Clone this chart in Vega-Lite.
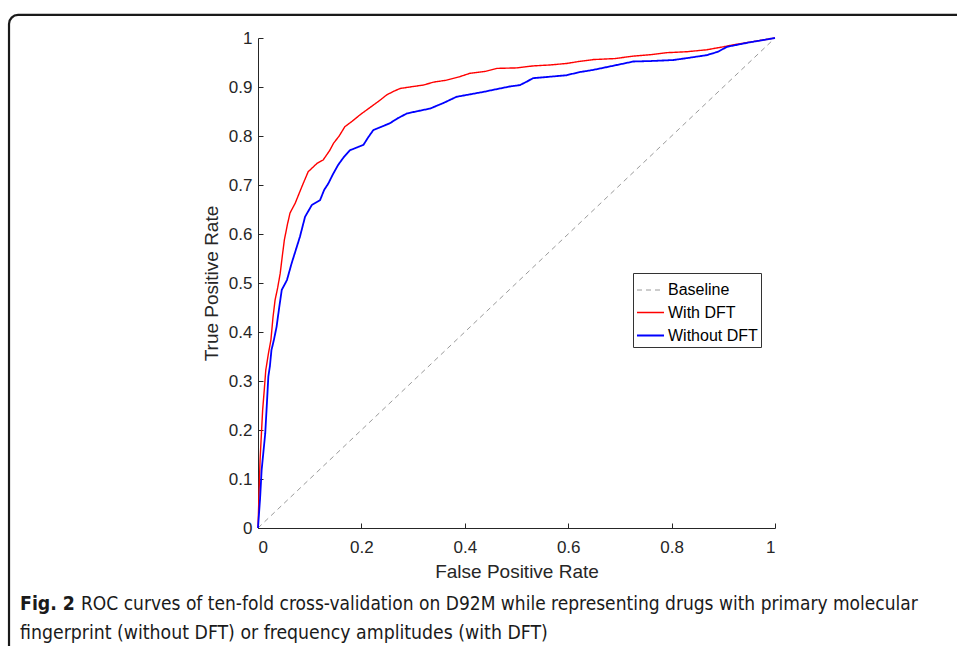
{
  "$schema": "https://vega.github.io/schema/vega-lite/v6.json",
  "width": 517,
  "height": 490,
  "autosize": {"type": "none"},
  "padding": {"left": 258, "top": 38, "right": 182, "bottom": 118},
  "background": "white",
  "config": {
    "view": {"stroke": null},
    "font": "Liberation Sans",
    "axis": {
      "domainColor": "#262626",
      "tickColor": "#262626",
      "labelColor": "#262626",
      "titleColor": "#262626",
      "labelFont": "Liberation Sans",
      "titleFont": "Liberation Sans",
      "labelFontSize": 17,
      "titleFontSize": 19,
      "titleFontWeight": "normal",
      "tickSize": -5,
      "grid": false,
      "domainWidth": 1,
      "tickWidth": 1
    }
  },
  "datasets": {
    "roc": [
      {"series": "Baseline", "fpr": 0, "tpr": 0},
      {"series": "Baseline", "fpr": 1, "tpr": 1},
      {"series": "With DFT", "fpr": 0, "tpr": 0},
      {"series": "With DFT", "fpr": 0.002, "tpr": 0.07},
      {"series": "With DFT", "fpr": 0.004, "tpr": 0.139},
      {"series": "With DFT", "fpr": 0.007, "tpr": 0.2},
      {"series": "With DFT", "fpr": 0.009, "tpr": 0.241},
      {"series": "With DFT", "fpr": 0.012, "tpr": 0.28},
      {"series": "With DFT", "fpr": 0.015, "tpr": 0.322},
      {"series": "With DFT", "fpr": 0.02, "tpr": 0.355},
      {"series": "With DFT", "fpr": 0.025, "tpr": 0.384},
      {"series": "With DFT", "fpr": 0.029, "tpr": 0.43},
      {"series": "With DFT", "fpr": 0.033, "tpr": 0.465},
      {"series": "With DFT", "fpr": 0.038, "tpr": 0.49},
      {"series": "With DFT", "fpr": 0.043, "tpr": 0.52},
      {"series": "With DFT", "fpr": 0.047, "tpr": 0.555},
      {"series": "With DFT", "fpr": 0.051, "tpr": 0.588},
      {"series": "With DFT", "fpr": 0.057, "tpr": 0.62},
      {"series": "With DFT", "fpr": 0.062, "tpr": 0.643},
      {"series": "With DFT", "fpr": 0.072, "tpr": 0.663},
      {"series": "With DFT", "fpr": 0.085, "tpr": 0.697},
      {"series": "With DFT", "fpr": 0.097, "tpr": 0.727},
      {"series": "With DFT", "fpr": 0.114, "tpr": 0.744},
      {"series": "With DFT", "fpr": 0.126, "tpr": 0.751},
      {"series": "With DFT", "fpr": 0.139, "tpr": 0.771},
      {"series": "With DFT", "fpr": 0.146, "tpr": 0.785},
      {"series": "With DFT", "fpr": 0.157, "tpr": 0.8},
      {"series": "With DFT", "fpr": 0.168, "tpr": 0.819},
      {"series": "With DFT", "fpr": 0.182, "tpr": 0.83},
      {"series": "With DFT", "fpr": 0.197, "tpr": 0.843},
      {"series": "With DFT", "fpr": 0.21, "tpr": 0.853},
      {"series": "With DFT", "fpr": 0.223, "tpr": 0.863},
      {"series": "With DFT", "fpr": 0.236, "tpr": 0.873},
      {"series": "With DFT", "fpr": 0.249, "tpr": 0.884},
      {"series": "With DFT", "fpr": 0.262, "tpr": 0.891},
      {"series": "With DFT", "fpr": 0.275, "tpr": 0.897},
      {"series": "With DFT", "fpr": 0.3, "tpr": 0.901},
      {"series": "With DFT", "fpr": 0.32, "tpr": 0.904},
      {"series": "With DFT", "fpr": 0.34, "tpr": 0.91},
      {"series": "With DFT", "fpr": 0.365, "tpr": 0.914},
      {"series": "With DFT", "fpr": 0.39, "tpr": 0.921},
      {"series": "With DFT", "fpr": 0.41, "tpr": 0.928},
      {"series": "With DFT", "fpr": 0.44, "tpr": 0.932},
      {"series": "With DFT", "fpr": 0.462, "tpr": 0.938},
      {"series": "With DFT", "fpr": 0.5, "tpr": 0.939},
      {"series": "With DFT", "fpr": 0.532, "tpr": 0.943},
      {"series": "With DFT", "fpr": 0.565, "tpr": 0.945},
      {"series": "With DFT", "fpr": 0.597, "tpr": 0.948},
      {"series": "With DFT", "fpr": 0.62, "tpr": 0.952},
      {"series": "With DFT", "fpr": 0.649, "tpr": 0.956},
      {"series": "With DFT", "fpr": 0.69, "tpr": 0.958},
      {"series": "With DFT", "fpr": 0.726, "tpr": 0.963},
      {"series": "With DFT", "fpr": 0.76, "tpr": 0.966},
      {"series": "With DFT", "fpr": 0.79, "tpr": 0.97},
      {"series": "With DFT", "fpr": 0.83, "tpr": 0.972},
      {"series": "With DFT", "fpr": 0.868, "tpr": 0.976},
      {"series": "With DFT", "fpr": 0.9, "tpr": 0.982},
      {"series": "With DFT", "fpr": 0.919, "tpr": 0.986},
      {"series": "With DFT", "fpr": 0.96, "tpr": 0.993},
      {"series": "With DFT", "fpr": 1, "tpr": 1},
      {"series": "Without DFT", "fpr": 0, "tpr": 0},
      {"series": "Without DFT", "fpr": 0.004, "tpr": 0.06},
      {"series": "Without DFT", "fpr": 0.007, "tpr": 0.118},
      {"series": "Without DFT", "fpr": 0.01, "tpr": 0.15},
      {"series": "Without DFT", "fpr": 0.014, "tpr": 0.193},
      {"series": "Without DFT", "fpr": 0.017, "tpr": 0.25},
      {"series": "Without DFT", "fpr": 0.02, "tpr": 0.309},
      {"series": "Without DFT", "fpr": 0.023, "tpr": 0.33},
      {"series": "Without DFT", "fpr": 0.026, "tpr": 0.363},
      {"series": "Without DFT", "fpr": 0.031, "tpr": 0.385},
      {"series": "Without DFT", "fpr": 0.036, "tpr": 0.411},
      {"series": "Without DFT", "fpr": 0.041, "tpr": 0.45},
      {"series": "Without DFT", "fpr": 0.046, "tpr": 0.486},
      {"series": "Without DFT", "fpr": 0.056, "tpr": 0.506},
      {"series": "Without DFT", "fpr": 0.065, "tpr": 0.54},
      {"series": "Without DFT", "fpr": 0.073, "tpr": 0.567},
      {"series": "Without DFT", "fpr": 0.081, "tpr": 0.594},
      {"series": "Without DFT", "fpr": 0.091, "tpr": 0.635},
      {"series": "Without DFT", "fpr": 0.104, "tpr": 0.659},
      {"series": "Without DFT", "fpr": 0.12, "tpr": 0.669},
      {"series": "Without DFT", "fpr": 0.128, "tpr": 0.69},
      {"series": "Without DFT", "fpr": 0.136, "tpr": 0.703},
      {"series": "Without DFT", "fpr": 0.145, "tpr": 0.722},
      {"series": "Without DFT", "fpr": 0.155, "tpr": 0.741},
      {"series": "Without DFT", "fpr": 0.166, "tpr": 0.757},
      {"series": "Without DFT", "fpr": 0.178, "tpr": 0.771},
      {"series": "Without DFT", "fpr": 0.204, "tpr": 0.782},
      {"series": "Without DFT", "fpr": 0.213, "tpr": 0.797},
      {"series": "Without DFT", "fpr": 0.223, "tpr": 0.812},
      {"series": "Without DFT", "fpr": 0.255, "tpr": 0.826},
      {"series": "Without DFT", "fpr": 0.27, "tpr": 0.836},
      {"series": "Without DFT", "fpr": 0.288, "tpr": 0.846},
      {"series": "Without DFT", "fpr": 0.31, "tpr": 0.851},
      {"series": "Without DFT", "fpr": 0.333, "tpr": 0.856},
      {"series": "Without DFT", "fpr": 0.36, "tpr": 0.868},
      {"series": "Without DFT", "fpr": 0.384, "tpr": 0.88},
      {"series": "Without DFT", "fpr": 0.41, "tpr": 0.885},
      {"series": "Without DFT", "fpr": 0.436, "tpr": 0.89},
      {"series": "Without DFT", "fpr": 0.468, "tpr": 0.897},
      {"series": "Without DFT", "fpr": 0.487, "tpr": 0.901},
      {"series": "Without DFT", "fpr": 0.507, "tpr": 0.904},
      {"series": "Without DFT", "fpr": 0.52, "tpr": 0.911},
      {"series": "Without DFT", "fpr": 0.532, "tpr": 0.918},
      {"series": "Without DFT", "fpr": 0.565, "tpr": 0.921},
      {"series": "Without DFT", "fpr": 0.597, "tpr": 0.924},
      {"series": "Without DFT", "fpr": 0.62, "tpr": 0.93},
      {"series": "Without DFT", "fpr": 0.649, "tpr": 0.935},
      {"series": "Without DFT", "fpr": 0.69, "tpr": 0.944},
      {"series": "Without DFT", "fpr": 0.726, "tpr": 0.952},
      {"series": "Without DFT", "fpr": 0.76, "tpr": 0.953},
      {"series": "Without DFT", "fpr": 0.803, "tpr": 0.955},
      {"series": "Without DFT", "fpr": 0.83, "tpr": 0.959},
      {"series": "Without DFT", "fpr": 0.868, "tpr": 0.965},
      {"series": "Without DFT", "fpr": 0.89, "tpr": 0.972},
      {"series": "Without DFT", "fpr": 0.907, "tpr": 0.982},
      {"series": "Without DFT", "fpr": 0.95, "tpr": 0.991},
      {"series": "Without DFT", "fpr": 1, "tpr": 1}
    ],
    "caption": [
      {"part": "bold", "text": "Fig. 2"},
      {"part": "line1", "text": "ROC curves of ten-fold cross-validation on D92M while representing drugs with primary molecular"},
      {"part": "line2", "text": "fingerprint (without DFT) or frequency amplitudes (with DFT)"}
    ]
  },
  "layer": [
    {
      "data": {"values": [{"frame": "border"}]},
      "mark": {"type": "rect", "clip": false, "fill": null, "stroke": "#1a1a1a", "strokeWidth": 2.2, "cornerRadius": 9},
      "encoding": {
        "x": {"datum": -0.4816, "type": "quantitative", "scale": {"domain": [0, 1]}},
        "x2": {"datum": 1.4},
        "y": {"datum": 1.047, "type": "quantitative", "scale": {"domain": [0, 1]}},
        "y2": {"datum": -0.3}
      }
    },
    {
      "data": {"name": "roc"},
      "mark": {"type": "line", "clip": false},
      "encoding": {
        "x": {
          "field": "fpr", "type": "quantitative",
          "scale": {"domain": [0, 1], "nice": false, "zero": false},
          "axis": {"values": [0, 0.2, 0.4, 0.6, 0.8, 1], "title": "False Positive Rate", "labelPadding": 16, "titlePadding": 7, "format": "~g"}
        },
        "y": {
          "field": "tpr", "type": "quantitative",
          "scale": {"domain": [0, 1], "nice": false, "zero": false},
          "axis": {"values": [0, 0.1, 0.2, 0.3, 0.4, 0.5, 0.6, 0.7, 0.8, 0.9, 1], "title": "True Positive Rate", "labelPadding": 11, "titlePadding": 6.5, "format": "~g"}
        },
        "color": {
          "field": "series", "type": "nominal",
          "scale": {"domain": ["Baseline", "With DFT", "Without DFT"], "range": ["#9a9a9a", "#ff0000", "#0000ff"]},
          "legend": {
            "title": null, "orient": "none", "legendX": 375, "legendY": 235,
            "strokeColor": "#333333", "fillColor": "white", "padding": 3,
            "symbolType": "stroke", "symbolSize": 729, "symbolStrokeWidth": 1.8,
            "labelFontSize": 16, "labelColor": "#000000", "labelFont": "Liberation Sans",
            "rowPadding": -7.5, "labelOffset": 3
          }
        },
        "strokeDash": {
          "field": "series", "type": "nominal",
          "scale": {"domain": ["Baseline", "With DFT", "Without DFT"], "range": [[5, 4], [1, 0], [1, 0]]}
        },
        "strokeWidth": {
          "field": "series", "type": "nominal",
          "scale": {"domain": ["Baseline", "With DFT", "Without DFT"], "range": [1, 1.8, 1.8]},
          "legend": null
        }
      }
    },
    {
      "data": {"name": "caption"},
      "transform": [{"filter": "datum.part === 'bold'"}],
      "mark": {"type": "text", "clip": false, "align": "left", "baseline": "middle", "font": "DejaVu Sans Condensed", "fontSize": 19.3, "fontWeight": "bold", "color": "#1a1a1a"},
      "encoding": {
        "text": {"field": "text"},
        "x": {"datum": -0.4603, "type": "quantitative"},
        "y": {"datum": -0.1551, "type": "quantitative"}
      }
    },
    {
      "data": {"name": "caption"},
      "transform": [{"filter": "datum.part === 'line1'"}],
      "mark": {"type": "text", "clip": false, "align": "left", "baseline": "middle", "font": "DejaVu Sans Condensed", "fontSize": 19, "color": "#1a1a1a"},
      "encoding": {
        "text": {"field": "text"},
        "x": {"datum": -0.3424, "type": "quantitative"},
        "y": {"datum": -0.1551, "type": "quantitative"}
      }
    },
    {
      "data": {"name": "caption"},
      "transform": [{"filter": "datum.part === 'line2'"}],
      "mark": {"type": "text", "clip": false, "align": "left", "baseline": "middle", "font": "DejaVu Sans Condensed", "fontSize": 19.3, "color": "#1a1a1a"},
      "encoding": {
        "text": {"field": "text"},
        "x": {"datum": -0.4603, "type": "quantitative"},
        "y": {"datum": -0.2143, "type": "quantitative"}
      }
    }
  ]
}
